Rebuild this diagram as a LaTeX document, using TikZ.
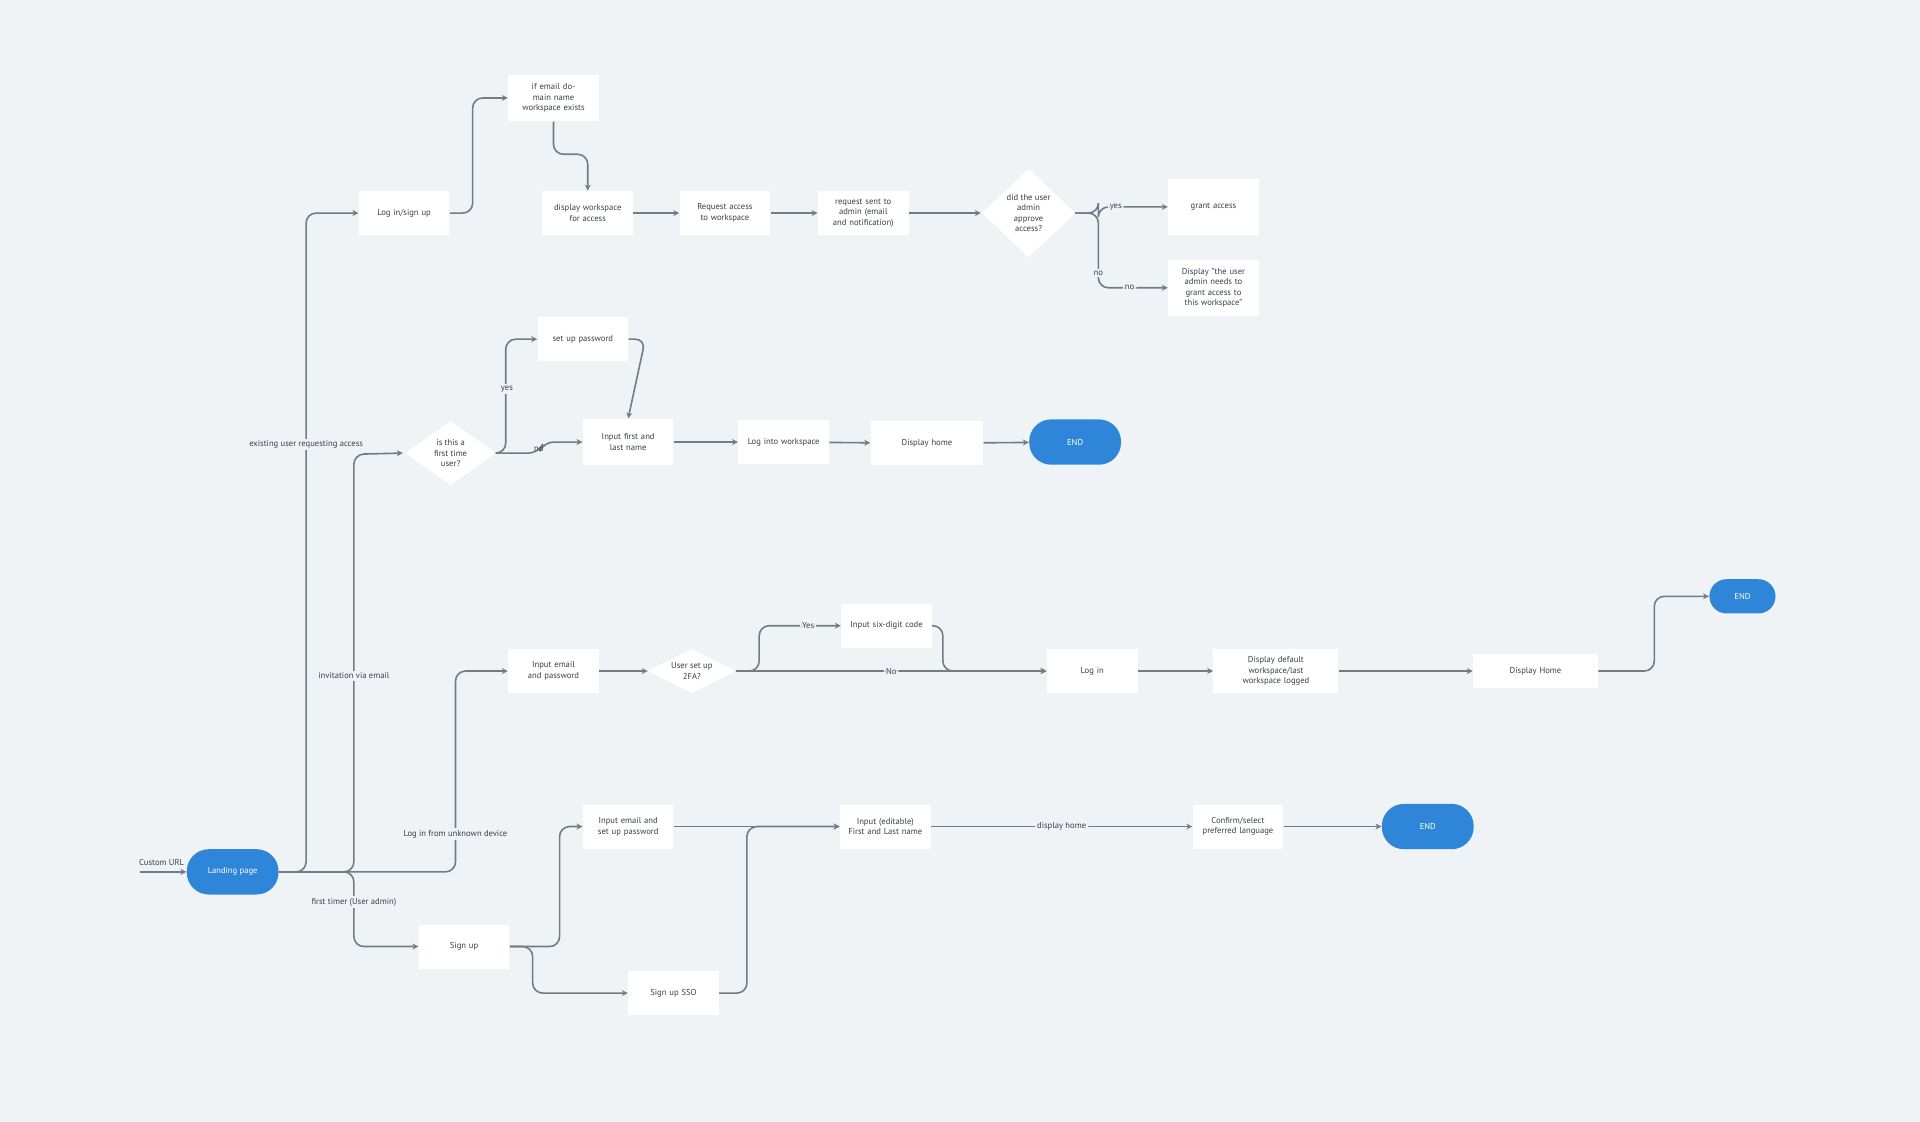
\documentclass[tikz,border=0pt]{standalone}
\usepackage{fontspec}
\setmainfont{PT Sans}
\usetikzlibrary{arrows.meta}
\definecolor{bg}{HTML}{F0F3F6}
\definecolor{ln}{HTML}{737B84}
\definecolor{blu}{HTML}{2F86D8}
\definecolor{txt}{HTML}{3A3F45}
\begin{document}
\begin{tikzpicture}[x=0.6122pt,y=-0.6122pt,
  every node/.style={font=\fontsize{4.3}{5.3}\selectfont, text=txt, align=center},
  box/.style={fill=white, draw=none, minimum width=#1*0.6122pt, minimum height=36*0.6122pt, inner sep=1pt, text width=(#1-10)*0.6122pt},
  box/.default=74,
  dia/.style={fill=white, draw=none, shape=diam},
  pill/.style={fill=blu, rounded corners=18*0.6122pt, minimum width=#1*0.6122pt, minimum height=37*0.6122pt, text=white},
  pill/.default=75,
  conn/.style={draw=ln, line width=0.8pt, rounded corners=5pt, -{Stealth[length=3pt,width=3pt]}},
  lab/.style={fill=bg, inner sep=1pt}]
\fill[bg] (0,0) rectangle (1568,916);
\useasboundingbox (0,0) rectangle (1568,916);
% nodes
\node[pill] (land) at (190,712) {Landing page};
\node[box] (login) at (330,174) {Log in/sign up};
\node[box,minimum height=38*0.6122pt] (email) at (452,80) {if email domain name workspace exists};
\node[box] (disp) at (480,174) {display workspace for access};
\node[box] (req) at (592,174) {Request access to workspace};
\node[box] (sent) at (705,174) {request sent to admin (email and notification)};
\fill[white] (840,138) -- (878,174) -- (840,210) -- (802,174) -- cycle;
\node (appr) at (840,174) {did the user\\admin\\approve\\access?};
\node[box,minimum height=46*0.6122pt] (grant) at (991,169) {grant access};
\node[box,minimum height=46*0.6122pt] (need) at (991,235) {Display "the user admin needs to grant access to this workspace"};
\node[box] (setpw) at (476,277) {set up password};
\fill[white] (368,344) -- (405,370) -- (368,396) -- (331,370) -- cycle;
\node (first) at (368,370) {is this a\\first time\\user?};
\node[box,minimum height=38*0.6122pt] (name) at (513,361) {Input first and last name};
\node[box] (logws) at (640,361) {Log into workspace};
\node[box=92] (home1) at (757,362) {Display home};
\node[pill] (end1) at (878,361) {END};
\node[box] (inpw) at (452,548) {Input email and password};
\fill[white] (565,530) -- (601,548) -- (565,566) -- (529,548) -- cycle;
\node (tfa) at (565,548) {User set up\\2FA?};
\node[box] (six) at (724,511) {Input six-digit code};
\node[box] (log) at (892,548) {Log in};
\node[box=102] (def) at (1042,548) {Display default workspace/last workspace logged};
\node[box=102,minimum height=28*0.6122pt] (home2) at (1254,548) {Display Home};
\node[pill=54,minimum height=28*0.6122pt,rounded corners=14*0.6122pt] (end2) at (1423,487) {END};
\node[box] (setup) at (513,675) {Input email and set up password};
\node[box] (edit) at (723,675) {Input (editable) First and Last name};
\node[box] (lang) at (1011,675) {Confirm/select preferred language};
\node[pill] (end3) at (1166,675) {END};
\node[box] (signup) at (379,773) {Sign up};
\node[box] (sso) at (550,811) {Sign up SSO};
\coordinate (url) at (114,712);
\node at (132,704) {Custom URL};
% connectors
\draw[conn] (url) -- (land.west);
\draw[conn] (land.east) -- (250,712) -- (250,174) -- (login.west);
\draw[conn] (land.east) -- (289,712) -- (289,371) -- (first.west -| 329,0) ;
\draw[conn] (land.east) -- (372,712) -- (372,548) -- (inpw.west);
\draw[conn] (land.east) -- (289,712) -- (289,773) -- (signup.west);
\node[lab] at (250,363) {existing user requesting access};
\node[lab] at (289,552) {invitation via email};
\node[lab] at (372,681) {Log in from unknown device};
\node[lab] at (289,737) {first timer (User admin)};
\draw[conn] (login.east) -- (386,174) -- (386,80) -- (email.west);
\draw[conn] (email.south) -- (452,126) -- (480,126) -- (disp.north);
\draw[conn] (disp) -- (req);
\draw[conn] (req) -- (sent);
\draw[conn] (sent.east) -- (801,174);
\draw[conn] (878,174) -- (897,174) -- (897,169) -- (grant.west) node[pos=0.25,lab]{yes};
\draw[conn] (878,174) -- (897,174) -- (897,235) -- (grant.west |- need) node[pos=0.45,lab]{no};
\node[lab] at (897,223) {no};
\draw[conn] (405,370) -- (413,370) -- (413,277) -- (setpw.west);
\node[lab] at (414,318) {yes};
\draw[conn] (405,370) -- (440,370) -- (444,361) -- (name.west);
\node at (440,367) {no};
\draw[conn] (setpw.east) -- (527,277) -- (name.north);
\draw[conn] (name) -- (logws);
\draw[conn] (logws) -- (home1);
\draw[conn] (home1) -- (end1);
\draw[conn] (inpw) -- (529,548);
\draw[conn] (601,548) -- (620,548) -- (620,511) -- (six.west) node[pos=0.6,lab]{Yes};
\draw[conn] (601,548) -- (log.west) node[pos=0.5,lab]{No};
\draw[conn] (six.east) -- (770,511) -- (770,548) -- (log.west);
\draw[conn] (log) -- (def);
\draw[conn] (def) -- (home2);
\draw[conn] (home2.east) -- (1351,548) -- (1351,487) -- (end2.west);
\draw[conn] (signup.east) -- (457,773) -- (457,675) -- (setup.west);
\draw[conn] (signup.east) -- (435,773) -- (435,811) -- (sso.west);
\draw[conn] (setup) -- (edit);
\draw[conn] (sso.east) -- (610,811) -- (610,675) -- (edit.west);
\draw[conn] (edit) -- (lang) node[midway,lab]{display home};
\draw[conn] (lang) -- (end3);
\end{tikzpicture}
\end{document}
